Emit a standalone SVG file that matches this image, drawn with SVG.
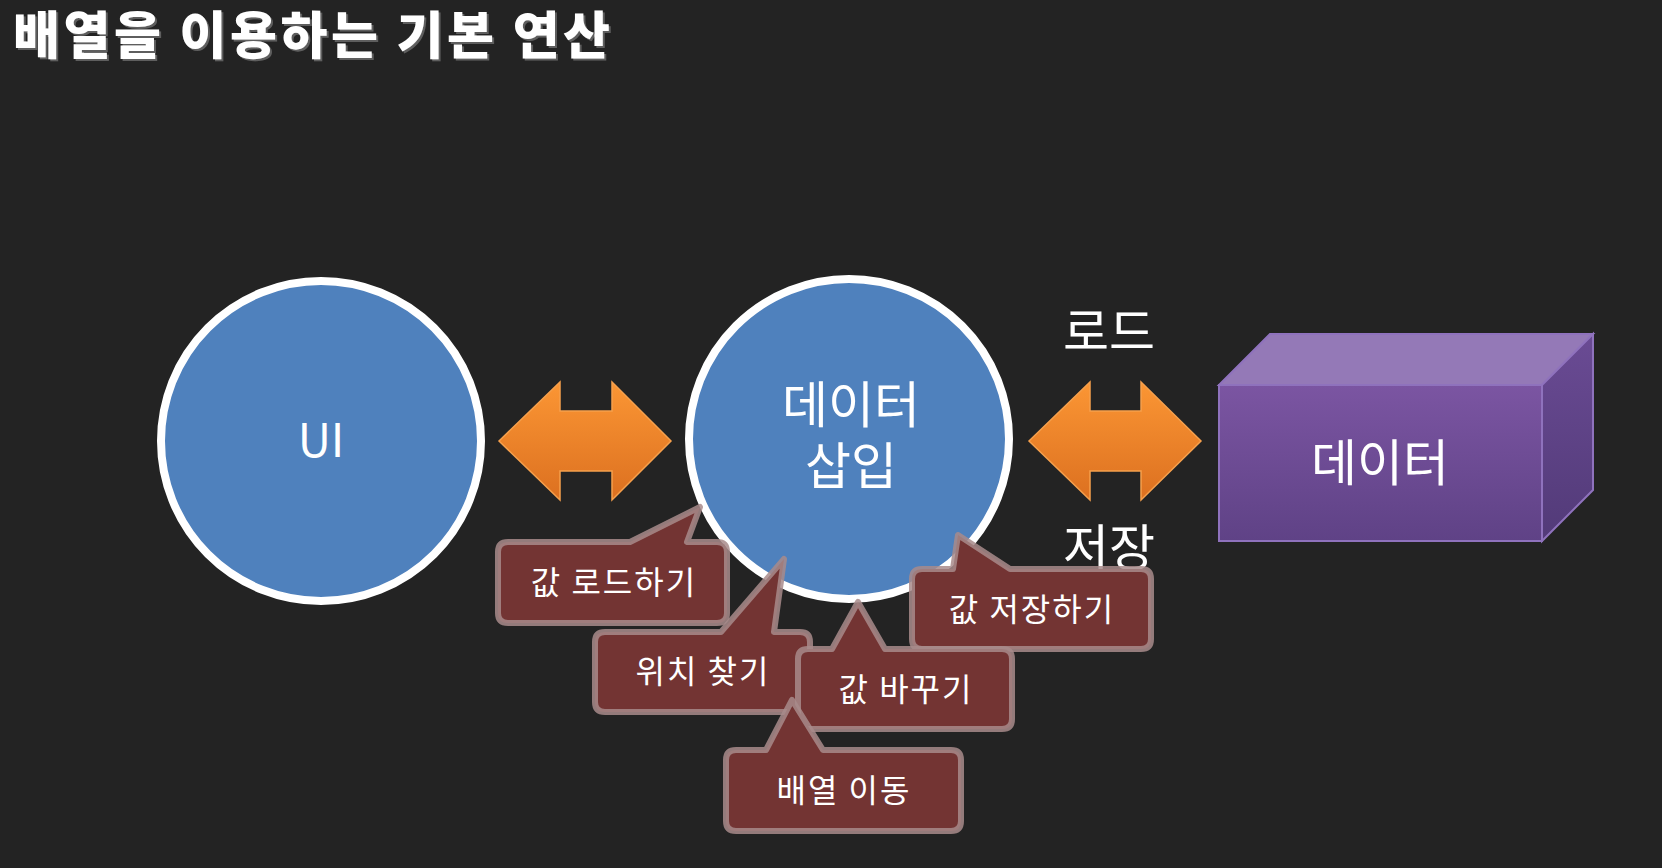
<svg xmlns="http://www.w3.org/2000/svg" width="1662" height="868" viewBox="0 0 1662 868">
<defs>
<linearGradient id="gOrange" x1="0" y1="0" x2="0" y2="1">
<stop offset="0" stop-color="#fb9634"/>
<stop offset="1" stop-color="#dc7020"/>
</linearGradient>
<linearGradient id="gFront" x1="0" y1="0" x2="0" y2="1">
<stop offset="0" stop-color="#7b55a2"/>
<stop offset="1" stop-color="#5f4286"/>
</linearGradient>
<linearGradient id="gSide" x1="0" y1="0" x2="0" y2="1">
<stop offset="0" stop-color="#6a4b94"/>
<stop offset="1" stop-color="#523a78"/>
</linearGradient>
<filter id="tshadow" x="-5%" y="-20%" width="110%" height="150%">
<feDropShadow dx="2" dy="2" stdDeviation="0.6" flood-color="#777777" flood-opacity="0.7"/>
</filter>
<style>
.bg{fill:#232323}
.title{font-family:"Noto Sans CJK KR","Noto Sans",sans-serif;font-weight:900;font-size:51px;fill:#ffffff}
.circ{fill:#4f81bd;stroke:#ffffff;stroke-width:8}
.lbl{font-family:"Noto Sans CJK KR","Noto Sans",sans-serif;font-weight:400;fill:#ffffff;text-anchor:middle}
.big{font-size:50px}
.ui{font-size:46px}
.arrow{fill:url(#gOrange);stroke:#f6a04c;stroke-width:1.5}
.call{fill:#733433;stroke:#a88b8b;stroke-opacity:0.85;stroke-width:6;stroke-linejoin:round}
.ct{font-size:32px;letter-spacing:2px}
</style>
</defs>
<rect class="bg" x="0" y="0" width="1662" height="868"/>
<g id="title">
<text class="title" x="13" y="54" textLength="597" lengthAdjust="spacing" filter="url(#tshadow)">배열을 이용하는 기본 연산</text>
</g>
<g id="connectors">
<path class="arrow" d="M499 441 L560 382 L560 411 L612 411 L612 382 L671 441 L612 500 L612 471 L560 471 L560 500 Z"/>
<path class="arrow" d="M1029 441 L1090 382 L1090 411 L1141 411 L1141 382 L1201 441 L1141 500 L1141 471 L1090 471 L1090 500 Z"/>
<text class="lbl big" x="1109" y="350">로드</text>
<text class="lbl big" x="1109" y="566">저장</text>
</g>
<g id="node-ui">
<circle class="circ" cx="321" cy="441" r="160"/>
<text class="lbl ui" x="321" y="457">UI</text>
</g>
<g id="node-insert">
<circle class="circ" cx="849" cy="439" r="160"/>
<text class="lbl big" x="851" y="423">데이터</text>
<text class="lbl big" x="851" y="484">삽입</text>
</g>
<g id="node-data">
<polygon points="1219,385 1270,334 1593,334 1542,385" fill="#9479b7" stroke="#8f72bd" stroke-width="2"/>
<polygon points="1542,385 1593,334 1593,490 1542,541" fill="url(#gSide)" stroke="#8f72bd" stroke-width="2"/>
<rect x="1219" y="385" width="323" height="156" fill="url(#gFront)" stroke="#8f72bd" stroke-width="2"/>
<text class="lbl big" x="1380" y="481">데이터</text>
</g>
<g id="callout-load">
<path class="call" d="M508 542 L630 542 L700 507 L687 542 L717 542 Q727 542 727 552 L727 613 Q727 623 717 623 L508 623 Q498 623 498 613 L498 552 Q498 542 508 542 Z"/>
<text class="lbl ct" x="614" y="594">값 로드하기</text>
</g>
<g id="callout-find">
<path class="call" d="M605 632 L721 632 L784 559 L774 632 L800 632 Q810 632 810 642 L810 702 Q810 712 800 712 L605 712 Q595 712 595 702 L595 642 Q595 632 605 632 Z"/>
<text class="lbl ct" x="703" y="683">위치 찾기</text>
</g>
<g id="callout-save">
<path class="call" d="M922 569 L953 569 L958 535 L1010 569 L1141 569 Q1151 569 1151 579 L1151 639 Q1151 649 1141 649 L922 649 Q912 649 912 639 L912 579 Q912 569 922 569 Z"/>
<text class="lbl ct" x="1032" y="621">값 저장하기</text>
</g>
<g id="callout-change">
<path class="call" d="M808 649 L832 649 L858 602 L885 649 L1002 649 Q1012 649 1012 659 L1012 719 Q1012 729 1002 729 L808 729 Q798 729 798 719 L798 659 Q798 649 808 649 Z"/>
<text class="lbl ct" x="906" y="701">값 바꾸기</text>
</g>
<g id="callout-move">
<path class="call" d="M736 750 L766 750 L792 700 L823 750 L951 750 Q961 750 961 760 L961 821 Q961 831 951 831 L736 831 Q726 831 726 821 L726 760 Q726 750 736 750 Z"/>
<text class="lbl ct" x="844" y="802">배열 이동</text>
</g>
</svg>
